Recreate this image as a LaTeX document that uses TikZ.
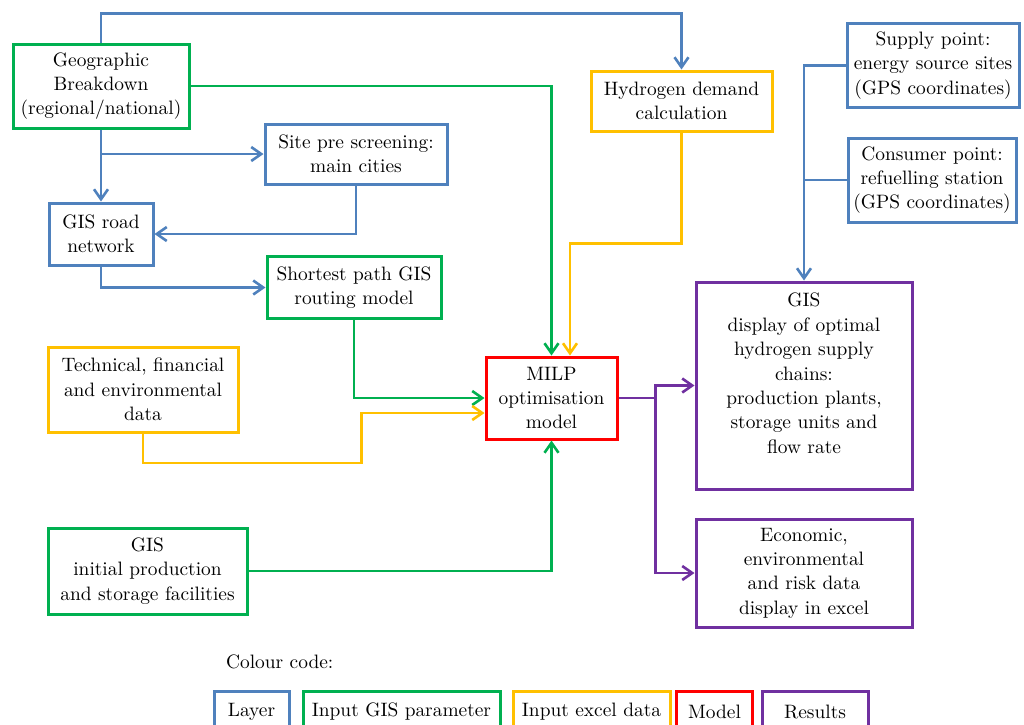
\documentclass[tikz,border=0pt]{standalone}
\usepackage{tikz}
\usetikzlibrary{arrows.meta,calc}
\definecolor{layerblue}{HTML}{4F81BD}
\definecolor{gisgreen}{HTML}{00B050}
\definecolor{excelyellow}{HTML}{FFC000}
\definecolor{modelred}{HTML}{FF0000}
\definecolor{resultpurple}{HTML}{7030A0}

\begin{document}
\begin{tikzpicture}[x=0.5pt,y=-0.5pt,>={Straight Barb[length=5pt,width=7pt]},
                    font=\fontsize{9.7}{12.2}\selectfont]
  \tikzstyle{box}=[draw,line width=1.5pt,align=center,inner sep=2pt]
  \tikzstyle{layer}=[box,draw=layerblue]
  \tikzstyle{gisin}=[box,draw=gisgreen]
  \tikzstyle{excel}=[box,draw=excelyellow]
  \tikzstyle{model}=[box,draw=modelred]
  \tikzstyle{result}=[box,draw=resultpurple]
  \tikzstyle{link}=[line width=1.3pt,->]

  \useasboundingbox (0,0) rectangle (1024,724);
  \clip (0,0) rectangle (1024,724);

  \node[gisin,minimum width=88pt,minimum height=42pt]    (geo)      at (101,86)    {Geographic\\Breakdown\\(regional/national)};
  \node[layer,minimum width=91pt,minimum height=30pt]    (site)     at (356,154)   {Site pre screening:\\main cities};
  \node[layer,minimum width=52pt,minimum height=31pt]    (road)     at (101,234)   {GIS road\\network};
  \node[gisin,minimum width=87pt,minimum height=31pt]    (path)     at (354,287.5) {Shortest path GIS\\routing model};
  \node[excel,minimum width=90.5pt,minimum height=30pt]  (hyd)      at (681.5,101) {Hydrogen demand\\calculation};
  \node[layer,minimum width=86pt,minimum height=42pt]    (supply)   at (933,65.5)  {Supply point:\\energy source sites\\(GPS coordinates)};
  \node[layer,minimum width=84pt,minimum height=42pt]    (consumer) at (932,180)   {Consumer point:\\refuelling station\\(GPS coordinates)};
  \node[excel,minimum width=95pt,minimum height=42.5pt]  (tech)     at (143,389.5) {Technical, financial\\and environmental\\data};
  \node[gisin,minimum width=99.5pt,minimum height=43pt]  (init)     at (147.5,571) {GIS\\initial production\\and storage facilities};
  \node[model,minimum width=65.5pt,minimum height=41pt]  (milp)     at (551.5,398) {MILP\\optimisation\\model};
  \node[result,minimum width=108pt,minimum height=103.5pt] (gisout) at (804,385.5) {GIS\\display of optimal\\hydrogen supply\\chains:\\production plants,\\storage units and\\flow rate\\[0pt]\mbox{}};
  \node[result,minimum width=108pt,minimum height=54pt]  (econ)     at (804,573)   {Economic,\\environmental\\and risk data\\display in excel};

  % colour code
  \node[anchor=west] (key) at (219,662) {Colour code:};
  \node[layer,minimum width=37.5pt,minimum height=21pt]  (keylayer)  at (251.5,712) {Layer};
  \node[gisin,minimum width=98.5pt,minimum height=21pt]  (keygis)    at (401.5,712) {Input GIS parameter};
  \node[excel,minimum width=78.5pt,minimum height=21pt]  (keyexcel)  at (591.5,712) {Input excel data};
  \node[model,minimum width=38pt,minimum height=21pt]    (keymodel)  at (714.5,712) {Model};
  \node[result,minimum width=53pt,minimum height=21pt]   (keyresult) at (815,712)   {Results};

  % layer links
  \draw[link,layerblue] (geo.north) -- ++(0,-29) -| (hyd.north);
  \draw[link,layerblue] (geo.south) -- (road.north);
  \draw[link,layerblue] (geo.south |- site.west) -- (site.west);
  \draw[link,layerblue] (site.south) |- (road.east);
  \draw[link,layerblue] (road.south) |- (path.west);
  \draw[link,layerblue] (supply.west) -| (gisout.north);
  \draw[line width=1.3pt,layerblue] (consumer.west) -- (consumer.west -| gisout.north);

  % inputs to the model
  \draw[link,gisgreen] (geo.east) -| (milp.north);
  \draw[link,excelyellow] (hyd.south) -- ++(0,111) -| ($(milp.north)+(18.5,0)$);
  \draw[link,gisgreen] (path.south) |- (milp.west);
  \draw[link,excelyellow] (tech.south) -- ++(0,29.5) -| ($(milp.west)+(-123,15)$) -- ($(milp.west)+(0,15)$);
  \draw[link,gisgreen] (init.east) -| (milp.south);

  % results
  \draw[link,resultpurple] (milp.east) -- ++(37,0) |- (gisout.west);
  \draw[link,resultpurple] (milp.east) -- ++(37,0) |- (econ.west);
\end{tikzpicture}
\end{document}
